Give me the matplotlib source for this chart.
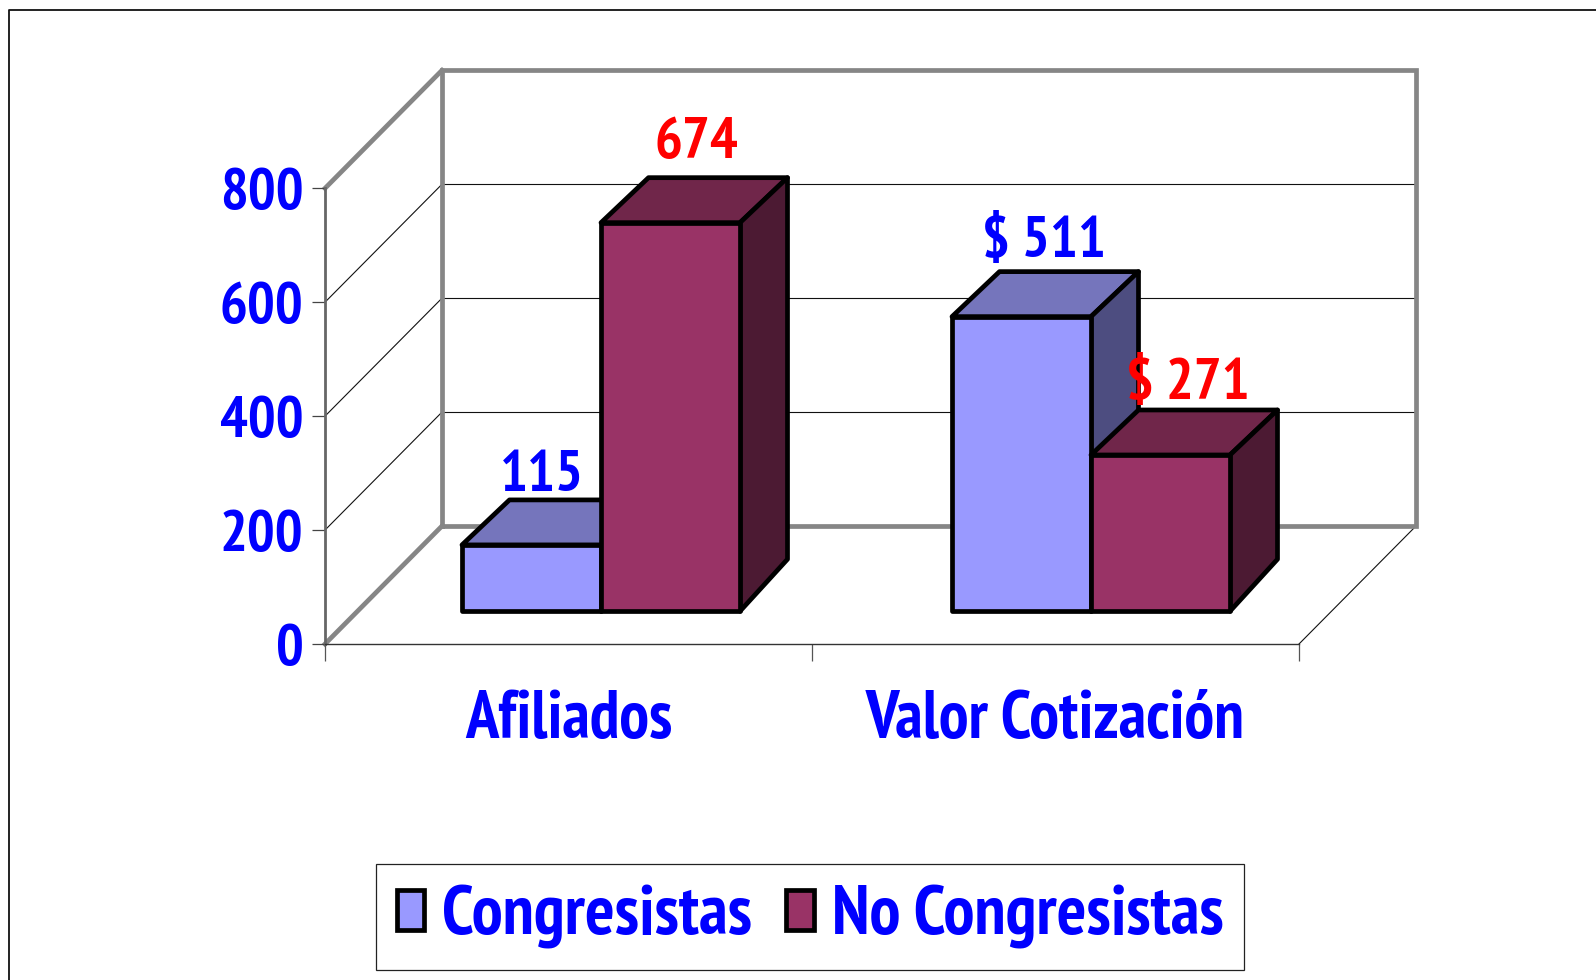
import matplotlib
matplotlib.use('Agg')
import matplotlib.pyplot as plt
from matplotlib.lines import Line2D
from matplotlib.patches import Patch, Polygon

categories = ['Afiliados', 'Valor Cotización']
series_names = ['Congresistas', 'No Congresistas']
congresistas = [115, 511]
no_congresistas = [674, 271]
labels_congresistas = ['115', '$ 511']
labels_no_congresistas = ['674', '$ 271']
y_ticks = [0, 200, 400, 600, 800]

plt.rcParams['font.family'] = ['PT Sans Narrow', 'Roboto Condensed', 'Liberation Sans']
plt.rcParams['font.weight'] = 'bold'

W, H = 1596, 980
fig = plt.figure(figsize=(W / 100, H / 100), dpi=100, facecolor='white')

# outer frame, runs off the right and bottom of the picture
fig.add_artist(Line2D([9 / W, 9 / W, 1], [0, 1 - 10 / H, 1 - 10 / H], color='#111111', lw=1.3))

# front plane of the chart box: x 0..2 categories, y 0..800
x0, x1, y0, y1 = 325, 1299, 644, 188.3
ax = fig.add_axes([x0 / W, 1 - y0 / H, (x1 - x0) / W, (y0 - y1) / H])
ax.set_xlim(0, 2)
ax.set_ylim(0, 800)
ax.patch.set_visible(False)
px = 2 / (x1 - x0)
py = 800 / (y0 - y1)

for s in ['top', 'right']:
    ax.spines[s].set_visible(False)
ax.spines['left'].set_color('#666666')
ax.spines['left'].set_linewidth(2)
ax.spines['bottom'].set_color('#333333')
ax.spines['bottom'].set_linewidth(1)

blue = '#0000FF'
red = '#FF0000'
digits_size = 42
cat_size = 48
legend_size = 50

ax.set_yticks(y_ticks)
ax.tick_params(axis='y', length=9.5, width=0.9, color='#444444', labelsize=digits_size, labelcolor=blue, pad=6)
ax.set_xticks([0, 1, 2])
ax.set_xticklabels([])
ax.tick_params(axis='x', which='major', length=12.5, width=0.9, color='#555555')
ax.set_xticks([0.5, 1.5], minor=True)
ax.set_xticklabels(categories, minor=True)
ax.tick_params(axis='x', which='minor', length=0, labelsize=cat_size, labelcolor=blue, pad=33)

# walls
wall_dx = 117 * px
wall_dy = 118 * py
wall = dict(color='#868686', lw=3.4, clip_on=False, solid_joinstyle='miter', zorder=1.5)
thin = dict(color='#111111', lw=0.8, clip_on=False, zorder=1.2)
for v in y_ticks[1:-1]:
    ax.plot([0, wall_dx], [v, v + wall_dy], **thin)
    ax.plot([wall_dx, 2 + wall_dx], [v + wall_dy, v + wall_dy], **thin)
ax.plot([2, 2 + wall_dx], [0, wall_dy], **thin)
ax.plot([0, wall_dx], [0, wall_dy], **wall)
ax.plot([0, wall_dx], [800, 800 + wall_dy], **wall)
ax.plot([wall_dx, wall_dx, 2 + wall_dx, 2 + wall_dx, wall_dx],
        [wall_dy, 800 + wall_dy, 800 + wall_dy, wall_dy, wall_dy], **wall)

# bars, drawn by hand as three faces because of the 3d look
bar_w = 139 * px
shift_x = [32.5 * px, 35.5 * px]
base = 32.8 * py
depth_x = 47.5 * px
depth_y = 45 * py
foot_y = 52 * py
scale = 1.012   # the bars come out a bit taller than the axis says

colors = [('#9999FF', '#7575BC', '#4D4D80'), ('#993366', '#70264A', '#4C1A33')]
edge = dict(edgecolor='black', lw=3.4, joinstyle='round', clip_on=False, zorder=3)


def bar3d(left, value, cols):
    top = base + value * scale
    right = left + bar_w
    ax.add_patch(Polygon([(left, top), (right, top), (right + depth_x, top + depth_y),
                          (left + depth_x, top + depth_y)], facecolor=cols[1], **edge))
    ax.add_patch(Polygon([(right, base), (right + depth_x, base + foot_y),
                          (right + depth_x, top + depth_y), (right, top)], facecolor=cols[2], **edge))
    ax.add_patch(Polygon([(left, base), (right, base), (right, top), (left, top)],
                         facecolor=cols[0], **edge))


for i in range(len(categories)):
    mid = i + 0.5 + shift_x[i]
    bar3d(mid - bar_w, congresistas[i], colors[0])
    bar3d(mid, no_congresistas[i], colors[1])

    # labels sit over the back of each bar
    nudges = [(10, 9), (26, 20)] if i == 0 else [(22, 15), (27, 11)]
    for j, (val, txt, col) in enumerate([(congresistas[i], labels_congresistas[i], blue),
                                         (no_congresistas[i], labels_no_congresistas[i], red)]):
        xc = mid - bar_w / 2 if j == 0 else mid + bar_w / 2
        ax.annotate(txt, (xc, base + val * scale + depth_y), xytext=(nudges[j][0] * 0.72, nudges[j][1] * 0.72),
                    textcoords='offset points', ha='center', va='baseline', color=col,
                    fontsize=digits_size, annotation_clip=False, zorder=5)

handles = [Patch(facecolor=colors[0][0], edgecolor='black', lw=3.4),
           Patch(facecolor=colors[1][0], edgecolor='black', lw=3.4)]
leg = fig.legend(handles, series_names, loc='center', bbox_to_anchor=(810 / W, 1 - 917 / H),
                 ncol=2, fontsize=legend_size, labelcolor=blue, frameon=True, fancybox=False,
                 edgecolor='#222222', framealpha=1, handlelength=0.4, handleheight=0.5,
                 columnspacing=0.5, handletextpad=0.25, borderpad=0.3)
leg.get_frame().set_linewidth(0.9)

fig.savefig('out.png', dpi=100)
